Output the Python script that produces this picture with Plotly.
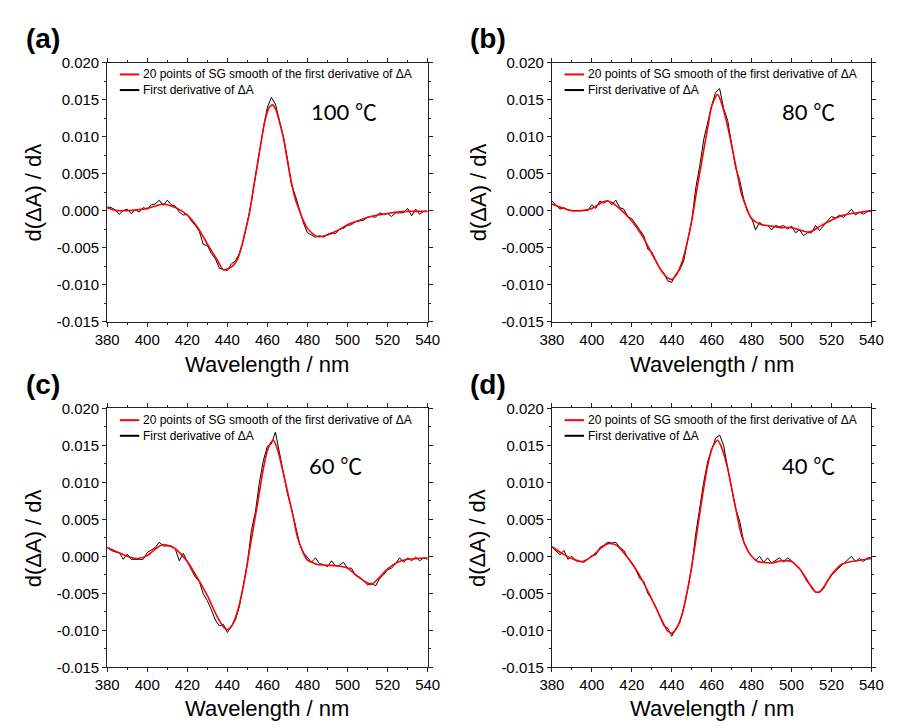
import plotly.graph_objects as go

# ---------------- data ----------------
wl_black = list(range(380, 542, 2))

black_a = [0.0005, 0.0004, 0.0001, -0.0005, 0.0000, 0.0002, -0.0004, 0.0001, -0.0002, 0.0004,
           0.0002, 0.0008, 0.0009, 0.0014, 0.0007, 0.0014, 0.0008, 0.0006, -0.0002, -0.0006,
           -0.0005, -0.0014, -0.0020, -0.0028, -0.0046, -0.0047, -0.0058, -0.0065, -0.0078, -0.0080,
           -0.0081, -0.0072, -0.0068, -0.0058, -0.0040, -0.0016, 0.0012, 0.0046, 0.0080, 0.0112,
           0.0140, 0.0153, 0.0144, 0.0120, 0.0100, 0.0070, 0.0035, 0.0020, 0.0000, -0.0017,
           -0.0030, -0.0033, -0.0036, -0.0034, -0.0036, -0.0032, -0.0030, -0.0031, -0.0025, -0.0024,
           -0.0020, -0.0019, -0.0015, -0.0014, -0.0013, -0.0009, -0.0008, -0.0009, -0.0003, -0.0005,
           -0.0004, -0.0008, -0.0003, -0.0003, -0.0003, 0.0003, -0.0007, 0.0002, -0.0005, -0.0001,
           -0.0001]

black_b = [0.0013, 0.0007, 0.0002, 0.0004, 0.0001, 0.0000, 0.0000, 0.0000, 0.0001, 0.0000,
           0.0008, 0.0003, 0.0013, 0.0010, 0.0014, 0.0008, 0.0014, 0.0004, 0.0002, -0.0008,
           -0.0011, -0.0018, -0.0026, -0.0034, -0.0052, -0.0056, -0.0068, -0.0078, -0.0084, -0.0095,
           -0.0097, -0.0086, -0.0080, -0.0068, -0.0040, -0.0014, 0.0030, 0.0060, 0.0096, 0.0121,
           0.0142, 0.0160, 0.0165, 0.0138, 0.0122, 0.0090, 0.0058, 0.0042, 0.0016, -0.0002,
           -0.0010, -0.0026, -0.0016, -0.0020, -0.0020, -0.0026, -0.0020, -0.0022, -0.0020, -0.0025,
           -0.0021, -0.0030, -0.0026, -0.0034, -0.0030, -0.0030, -0.0020, -0.0027, -0.0020, -0.0014,
           -0.0008, -0.0010, -0.0006, -0.0009, -0.0004, 0.0002, -0.0006, -0.0002, -0.0005, -0.0001,
           -0.0001]

black_c = [0.0012, 0.0008, 0.0006, 0.0005, -0.0004, 0.0003, -0.0004, -0.0004, -0.0003, -0.0004,
           0.0005, 0.0008, 0.0012, 0.0019, 0.0014, 0.0014, 0.0014, 0.0010, -0.0006, 0.0004,
           -0.0008, -0.0018, -0.0028, -0.0034, -0.0051, -0.0060, -0.0072, -0.0086, -0.0094, -0.0092,
           -0.0103, -0.0095, -0.0086, -0.0068, -0.0040, -0.0010, 0.0035, 0.0060, 0.0100, 0.0130,
           0.0149, 0.0152, 0.0168, 0.0140, 0.0115, 0.0085, 0.0065, 0.0040, 0.0018, 0.0005,
           -0.0002, -0.0008, -0.0002, -0.0010, -0.0011, -0.0014, -0.0006, -0.0013, -0.0012, -0.0008,
           -0.0016, -0.0016, -0.0026, -0.0028, -0.0033, -0.0039, -0.0036, -0.0040, -0.0030, -0.0025,
           -0.0018, -0.0016, -0.0010, -0.0002, -0.0008, -0.0002, -0.0006, -0.0001, -0.0006, -0.0002,
           -0.0004]

black_d = [0.0013, 0.0008, 0.0002, 0.0008, -0.0004, 0.0000, -0.0006, -0.0007, -0.0008, -0.0004,
           0.0001, 0.0002, 0.0012, 0.0015, 0.0019, 0.0018, 0.0019, 0.0012, 0.0008, -0.0002,
           -0.0010, -0.0018, -0.0030, -0.0034, -0.0050, -0.0058, -0.0068, -0.0080, -0.0094, -0.0097,
           -0.0108, -0.0098, -0.0090, -0.0070, -0.0045, -0.0015, 0.0030, 0.0065, 0.0100, 0.0128,
           0.0145, 0.0160, 0.0164, 0.0150, 0.0120, 0.0092, 0.0065, 0.0048, 0.0020, 0.0008,
           0.0000, -0.0006, 0.0000, -0.0008, -0.0002, -0.0009, -0.0006, -0.0002, -0.0008, -0.0002,
           -0.0006, -0.0012, -0.0016, -0.0026, -0.0035, -0.0040, -0.0049, -0.0049, -0.0044, -0.0034,
           -0.0026, -0.0020, -0.0015, -0.0010, -0.0005, 0.0000, -0.0007, -0.0003, -0.0007, -0.0002,
           -0.0002]

wl_red_a = [380, 385, 390, 395, 400, 405, 408, 410, 415, 420, 425, 430, 435, 438, 440, 443, 445,
            447, 449, 451, 453, 455, 457, 459, 461, 462.5, 464, 466, 468, 470, 472, 474, 476, 478,
            480, 483, 485, 490, 495, 500, 505, 510, 515, 520, 525, 530, 535, 540]
red_a = [0.0004, 0.0000, -0.0000, 0.0001, 0.0003, 0.0007, 0.0009, 0.0008, 0.0003, -0.0006,
         -0.0022, -0.0045, -0.0067, -0.0080, -0.0079, -0.0074, -0.0066, -0.0050, -0.0027, -0.0004,
         0.0030, 0.0062, 0.0095, 0.0124, 0.0140, 0.0143, 0.0138, 0.0120, 0.0098, 0.0067,
         0.0038, 0.0015, 0.0000, -0.0014, -0.0024, -0.0032, -0.0035, -0.0033, -0.0027, -0.0019,
         -0.0014, -0.0009, -0.0006, -0.0004, -0.0002, -0.0001, -0.0001, -0.0001]

wl_red_b = [380, 385, 390, 395, 400, 405, 407, 410, 415, 420, 425, 430, 435, 438, 440, 442, 445,
            448, 450, 453, 455, 458, 460, 462, 463, 465, 468, 470, 473, 475, 478, 480, 485, 490,
            495, 500, 505, 508, 510, 515, 520, 525, 530, 535, 540]
red_b = [0.0009, 0.0004, 0.0000, -0.0000, 0.0003, 0.0011, 0.0013, 0.0011, 0.0000, -0.0014,
         -0.0033, -0.0058, -0.0082, -0.0091, -0.0093, -0.0088, -0.0071, -0.0040, -0.0014, 0.0035,
         0.0066, 0.0112, 0.0141, 0.0154, 0.0157, 0.0145, 0.0114, 0.0088, 0.0048, 0.0022,
         -0.0000, -0.0011, -0.0019, -0.0021, -0.0023, -0.0023, -0.0027, -0.0029, -0.0028, -0.0020,
         -0.0013, -0.0007, -0.0004, -0.0002, -0.0000]

wl_red_c = [380, 385, 390, 395, 400, 405, 408, 410, 413, 415, 420, 425, 430, 435, 438, 440, 442,
            445, 448, 450, 453, 455, 458, 460, 462, 463, 465, 468, 470, 473, 475, 478, 480, 483,
            485, 490, 495, 500, 505, 510, 512, 515, 520, 525, 530, 535, 540]
red_c = [0.0012, 0.0006, 0.0000, -0.0003, 0.0001, 0.0012, 0.0016, 0.0015, 0.0012, 0.0008,
         -0.0007, -0.0029, -0.0053, -0.0082, -0.0095, -0.0099, -0.0095, -0.0075, -0.0040, -0.0009,
         0.0039, 0.0070, 0.0119, 0.0143, 0.0155, 0.0157, 0.0145, 0.0112, 0.0088, 0.0052,
         0.0026, 0.0004, -0.0005, -0.0009, -0.0011, -0.0012, -0.0013, -0.0016, -0.0027, -0.0036,
         -0.0038, -0.0031, -0.0017, -0.0008, -0.0004, -0.0003, -0.0002]

wl_red_d = [380, 385, 390, 395, 400, 405, 408, 410, 413, 415, 420, 425, 430, 435, 438, 440, 442,
            445, 448, 450, 453, 455, 458, 460, 462, 463, 465, 468, 470, 473, 475, 478, 480, 483,
            485, 490, 495, 500, 503, 505, 508, 510, 512, 514, 516, 520, 525, 530, 535, 540]
red_d = [0.0013, 0.0004, -0.0003, -0.0007, -0.0000, 0.0012, 0.0017, 0.0017, 0.0014, 0.0008,
         -0.0009, -0.0031, -0.0058, -0.0086, -0.0101, -0.0104, -0.0099, -0.0080, -0.0044, -0.0014,
         0.0039, 0.0075, 0.0123, 0.0145, 0.0155, 0.0157, 0.0147, 0.0119, 0.0092, 0.0052,
         0.0028, 0.0008, -0.0000, -0.0007, -0.0008, -0.0009, -0.0006, -0.0007, -0.0014, -0.0020,
         -0.0033, -0.0042, -0.0048, -0.0048, -0.0042, -0.0025, -0.0011, -0.0007, -0.0005, -0.0003]

panel_labels = ["(a)", "(b)", "(c)", "(d)"]
temperatures = ["100 \u2103", "80 \u2103", "60 \u2103", "40 \u2103"]
legend_names = ["20 points of SG smooth of the first derivative of \u0394A",
                "First derivative of \u0394A"]
x_title = "Wavelength / nm"
y_title = "d(\u0394A) / d\u03bb"
x_tick_vals = [380, 400, 420, 440, 460, 480, 500, 520, 540]
x_tick_text = ["380", "400", "420", "440", "460", "480", "500", "520", "540"]
y_tick_vals = [-0.015, -0.010, -0.005, 0.0, 0.005, 0.010, 0.015, 0.020]
y_tick_text = ["-0.015", "-0.010", "-0.005", "0.000", "0.005", "0.010", "0.015", "0.020"]

blacks = [black_a, black_b, black_c, black_d]
reds_x = [wl_red_a, wl_red_b, wl_red_c, wl_red_d]
reds_y = [red_a, red_b, red_c, red_d]

# ---------------- layout helpers ----------------
W, H = 898, 728
# plot areas in pixels: (left, right, top, bottom)
areas = [(97, 427, 55, 320), (555, 884, 55, 320), (97, 427, 409, 674), (555, 884, 409, 674)]
temp_pos = [(305, 105), (790, 105), (303, 467), (790, 467)]
xtitle_y = [364, 364, 716, 716]


def px(x):
    return x / W


def py(y):
    return 1 - y / H


FONT = "Liberation Sans, Arial, sans-serif"

fig = go.Figure()
layout = dict(width=W, height=H, margin=dict(l=0, r=0, t=0, b=0), autosize=False,
              paper_bgcolor="white", plot_bgcolor="white", showlegend=False,
              font=dict(family=FONT, color="black"))
annotations = []
shapes = []

for i in range(4):
    xa = "x" if i == 0 else f"x{i+1}"
    ya = "y" if i == 0 else f"y{i+1}"
    l, r, t, b = areas[i]
    fig.add_trace(go.Scatter(x=wl_black, y=blacks[i], mode="lines", xaxis=xa, yaxis=ya,
                             line=dict(color="black", width=1), name=legend_names[1]))
    fig.add_trace(go.Scatter(x=reds_x[i], y=reds_y[i], mode="lines", xaxis=xa, yaxis=ya,
                             line=dict(color="#ff0000", width=1.6, shape="spline", smoothing=0.8),
                             name=legend_names[0]))
    axis_common = dict(showline=True, linecolor="#222", linewidth=1, mirror="ticks",
                       showgrid=False, zeroline=False, ticks="outside", ticklen=4,
                       tickcolor="#222", tickfont=dict(size=15, family=FONT, color="black"))
    layout["xaxis" if i == 0 else f"xaxis{i+1}"] = dict(
        domain=[px(l), px(r)], anchor=ya, range=[380, 540],
        tickvals=x_tick_vals, ticktext=x_tick_text,
        minor=dict(ticks="outside", ticklen=2, dtick=10, tick0=380, tickcolor="#222"),
        **axis_common)
    layout["yaxis" if i == 0 else f"yaxis{i+1}"] = dict(
        domain=[py(b), py(t)], anchor=xa, range=[-0.015, 0.020],
        tickvals=y_tick_vals, ticktext=y_tick_text,
        minor=dict(ticks="outside", ticklen=2, dtick=0.0025, tick0=0, tickcolor="#222"),
        **axis_common)

    # panel label
    annotations.append(dict(text=f"<b>{panel_labels[i]}</b>", x=px(l - 86), y=py(t - 25),
                            xref="paper", yref="paper", xanchor="left", yanchor="middle",
                            showarrow=False, font=dict(size=28, family=FONT, color="black")))
    # temperature
    tx, ty = temp_pos[i]
    annotations.append(dict(text=temperatures[i], x=px(tx), y=py(ty), xref="paper", yref="paper",
                            xanchor="left", yanchor="middle", showarrow=False,
                            font=dict(size=22, family="Lato, Noto Sans CJK SC, sans-serif",
                                      color="black")))
    # axis titles
    annotations.append(dict(text=x_title, x=px((l + r) / 2), y=py(xtitle_y[i]), xref="paper",
                            yref="paper", xanchor="center", yanchor="middle", showarrow=False,
                            font=dict(size=22, family=FONT, color="black")))
    annotations.append(dict(text=y_title, x=px(l - 76), y=py((t + b) / 2), xref="paper",
                            yref="paper", xanchor="center", yanchor="middle", showarrow=False,
                            textangle=-90, font=dict(size=22, family=FONT, color="black")))
    # legend
    for k, (col, lw) in enumerate([("#ff0000", 2), ("black", 2)]):
        yy = t + 12 + 16 * k
        shapes.append(dict(type="line", xref="paper", yref="paper", x0=px(l + 13), x1=px(l + 33),
                           y0=py(yy), y1=py(yy), line=dict(color=col, width=lw)))
        annotations.append(dict(text=legend_names[k], x=px(l + 35), y=py(yy), xref="paper",
                                yref="paper", xanchor="left", yanchor="middle", showarrow=False,
                                font=dict(size=12, family=FONT, color="black")))

layout["annotations"] = annotations
layout["shapes"] = shapes
fig.update_layout(**layout)
fig.write_html("out.html")
